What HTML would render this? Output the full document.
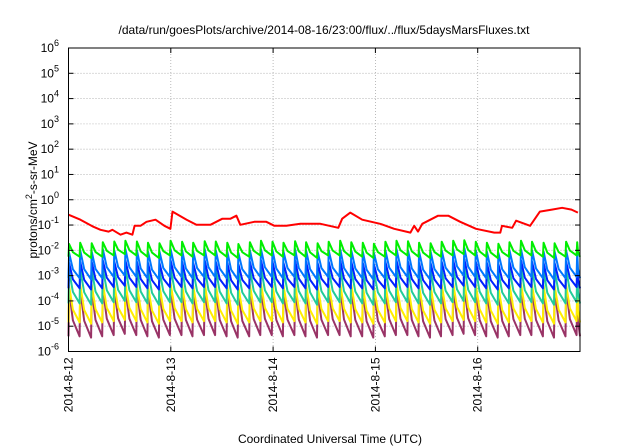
<!DOCTYPE html>
<html><head><meta charset="utf-8"><style>
html,body{margin:0;padding:0;background:#fff;}
svg{display:block;font-family:"Liberation Sans",sans-serif;}
</style></head><body>
<svg id="chart" width="640" height="448" viewBox="0 0 640 448" xmlns="http://www.w3.org/2000/svg">
<rect x="0" y="0" width="640" height="448" fill="#fff"/>
<text x="324" y="34" font-size="12" text-anchor="middle">/data/run/goesPlots/archive/2014-08-16/23:00/flux/../flux/5daysMarsFluxes.txt</text>
<g id="grid"></g>
<g id="series"></g>
<g id="axes"></g>
<text transform="translate(37,200) rotate(-90)" font-size="12" text-anchor="middle">protons/cm<tspan dy="-5" font-size="9">2</tspan><tspan dy="5">-s-sr-MeV</tspan></text>
<text x="330" y="443" font-size="12" text-anchor="middle">Coordinated Universal Time (UTC)</text>
</svg>
<script>
const dayLabels = ["2014-8-12","2014-8-13","2014-8-14","2014-8-15","2014-8-16"];
const yExponents = [-6,-5,-4,-3,-2,-1,0,1,2,3,4,5,6];
const cycleHours = [0,2.6,5.3,7.9,10.6,13.2,15.9,18.5,21.2,23.8,26.5,29.1,31.8,34.4,37.1,39.7,42.4,45.0,47.7,50.3,53.0,55.6,58.3,60.9,63.6,66.2,68.9,71.5,74.2,76.8,79.5,82.1,84.8,87.4,90.1,92.7,95.4,98.0,100.7,103.3,106.0,108.6,111.3,113.9,116.6,119.2];
const greenPeaks = [-1.75,-1.7,-1.72,-1.68,-1.65,-1.62,-1.65,-1.7,-1.72,-1.62,-1.66,-1.7,-1.64,-1.65,-1.7,-1.75,-1.68,-1.62,-1.66,-1.7,-1.64,-1.68,-1.72,-1.66,-1.62,-1.68,-1.7,-1.74,-1.66,-1.62,-1.64,-1.7,-1.72,-1.66,-1.62,-1.6,-1.66,-1.7,-1.74,-1.68,-1.62,-1.66,-1.7,-1.72,-1.66,-1.68];
const greenTroughs = [-2.25,-2.3,-2.25,-2.2,-2.15,-2.2,-2.25,-2.3,-2.2,-2.2,-2.25,-2.2,-2.2,-2.25,-2.3,-2.25,-2.2,-2.2,-2.25,-2.2,-2.25,-2.3,-2.2,-2.2,-2.25,-2.25,-2.3,-2.25,-2.2,-2.2,-2.25,-2.3,-2.25,-2.2,-2.15,-2.2,-2.25,-2.3,-2.25,-2.2,-2.2,-2.25,-2.3,-2.25,-2.2,-2.25];
const ltBluePeaks = [-2.1,-2.0,-2.05,-1.95,-2.0,-1.95,-2.0,-2.05,-2.05,-1.95,-2.0,-2.05,-1.95,-2.0,-2.05,-2.1,-2.0,-1.95,-2.0,-2.05,-1.95,-2.0,-2.05,-2.0,-1.95,-2.0,-2.05,-2.1,-2.0,-1.95,-2.0,-2.05,-2.05,-2.0,-1.95,-1.9,-2.0,-2.05,-2.1,-2.0,-1.95,-2.0,-2.05,-2.05,-2.0,-2.05];
const ltBlueTroughs = [-3.1,-3.15,-3.1,-3.05,-3.0,-3.05,-3.1,-3.15,-3.05,-3.05,-3.1,-3.05,-3.05,-3.1,-3.15,-3.1,-3.05,-3.05,-3.1,-3.05,-3.1,-3.15,-3.05,-3.05,-3.1,-3.1,-3.15,-3.1,-3.05,-3.05,-3.1,-3.15,-3.1,-3.05,-3.0,-3.05,-3.1,-3.15,-3.1,-3.05,-3.05,-3.1,-3.15,-3.1,-3.05,-3.1];
const bluePeaks = [-2.5,-2.45,-2.45,-2.4,-2.45,-2.4,-2.45,-2.5,-2.5,-2.4,-2.45,-2.5,-2.4,-2.45,-2.5,-2.55,-2.45,-2.4,-2.45,-2.5,-2.4,-2.45,-2.5,-2.45,-2.4,-2.45,-2.5,-2.55,-2.45,-2.4,-2.45,-2.5,-2.5,-2.45,-2.4,-2.35,-2.45,-2.5,-2.55,-2.45,-2.4,-2.45,-2.5,-2.5,-2.45,-2.5];
const blueTroughs = [-3.5,-3.55,-3.5,-3.45,-3.4,-3.45,-3.5,-3.55,-3.45,-3.45,-3.5,-3.45,-3.45,-3.5,-3.55,-3.5,-3.45,-3.45,-3.5,-3.45,-3.5,-3.55,-3.45,-3.45,-3.5,-3.5,-3.55,-3.5,-3.45,-3.45,-3.5,-3.55,-3.5,-3.45,-3.4,-3.45,-3.5,-3.55,-3.5,-3.45,-3.45,-3.5,-3.55,-3.5,-3.45,-3.5];
const tealPeaks = [-2.8,-2.75,-2.75,-2.7,-2.75,-2.7,-2.75,-2.8,-2.8,-2.7,-2.75,-2.8,-2.7,-2.75,-2.8,-2.85,-2.75,-2.7,-2.75,-2.8,-2.7,-2.75,-2.8,-2.75,-2.7,-2.75,-2.8,-2.85,-2.75,-2.7,-2.75,-2.8,-2.8,-2.75,-2.7,-2.65,-2.75,-2.8,-2.85,-2.75,-2.7,-2.75,-2.8,-2.8,-2.75,-2.8];
const tealTroughs = [-4.1,-4.15,-4.1,-4.05,-4.0,-4.05,-4.1,-4.15,-4.05,-4.05,-4.1,-4.05,-4.05,-4.1,-4.15,-4.1,-4.05,-4.05,-4.1,-4.05,-4.1,-4.15,-4.05,-4.05,-4.1,-4.1,-4.15,-4.1,-4.05,-4.05,-4.1,-4.15,-4.1,-4.05,-4.0,-4.05,-4.1,-4.15,-4.1,-4.05,-4.05,-4.1,-4.15,-4.1,-4.05,-4.1];
const yellowPeaks = [-3.4,-3.35,-3.35,-3.3,-3.35,-3.3,-3.35,-3.4,-3.4,-3.3,-3.35,-3.4,-3.3,-3.35,-3.4,-3.45,-3.35,-3.3,-3.35,-3.4,-3.3,-3.35,-3.4,-3.35,-3.3,-3.35,-3.4,-3.45,-3.35,-3.3,-3.35,-3.4,-3.4,-3.35,-3.3,-3.25,-3.35,-3.4,-3.45,-3.35,-3.3,-3.35,-3.4,-3.4,-3.35,-3.4];
const yellowTroughs = [-4.85,-4.9,-4.85,-4.8,-4.75,-4.8,-4.85,-4.9,-4.8,-4.8,-4.85,-4.8,-4.8,-4.85,-4.9,-4.85,-4.8,-4.8,-4.85,-4.8,-4.85,-4.9,-4.8,-4.8,-4.85,-4.85,-4.9,-4.85,-4.8,-4.8,-4.85,-4.9,-4.85,-4.8,-4.75,-4.8,-4.85,-4.9,-4.85,-4.8,-4.8,-4.85,-4.9,-4.85,-4.8,-4.85];
const purplePeaks = [-3.6,-3.55,-3.55,-3.5,-3.55,-3.5,-3.55,-3.6,-3.6,-3.5,-3.55,-3.6,-3.5,-3.55,-3.6,-3.65,-3.55,-3.5,-3.55,-3.6,-3.5,-3.55,-3.6,-3.55,-3.5,-3.55,-3.6,-3.65,-3.55,-3.5,-3.55,-3.6,-3.6,-3.55,-3.5,-3.45,-3.55,-3.6,-3.65,-3.55,-3.5,-3.55,-3.6,-3.6,-3.55,-3.6];
const purpleTroughs = [-5.4,-5.45,-5.4,-5.35,-5.3,-5.35,-5.4,-5.45,-5.35,-5.35,-5.4,-5.35,-5.35,-5.4,-5.45,-5.4,-5.35,-5.35,-5.4,-5.35,-5.4,-5.45,-5.35,-5.35,-5.4,-5.4,-5.45,-5.4,-5.35,-5.35,-5.4,-5.45,-5.4,-5.35,-5.3,-5.35,-5.4,-5.45,-5.4,-5.35,-5.35,-5.4,-5.45,-5.4,-5.35,-5.4];
const redHours = [0,2.8,5.6,7.5,9.4,10.3,12.2,13.6,15.0,15.5,16.9,18.3,20.4,22.5,23.9,24.4,27.7,30.0,33.3,36.1,38.0,39.4,40.3,43.6,46.4,48.3,51.1,54.4,59.1,63.3,64.2,66.1,68.9,73.1,76.4,80.2,81.1,82.0,83.0,86.7,89.1,91.9,95.6,99.9,101.3,101.7,104.1,105.0,108.3,110.6,113.4,115.8,118.0,119.5];
const redLog = [-0.59,-0.79,-1.05,-1.19,-1.26,-1.19,-1.38,-1.30,-1.38,-1.03,-1.03,-0.87,-0.79,-1.03,-1.15,-0.47,-0.79,-0.99,-0.99,-0.75,-0.75,-0.63,-0.99,-0.87,-0.87,-1.03,-1.03,-0.95,-0.95,-1.11,-0.75,-0.51,-0.79,-0.95,-1.15,-1.30,-1.03,-1.26,-0.95,-0.63,-0.63,-0.87,-1.15,-1.30,-1.30,-1.03,-1.11,-0.83,-1.03,-0.47,-0.39,-0.32,-0.39,-0.51];

const L=68.5,R=580,T=48,B=351.5, H0=0,H1=120;
const xS=h=>L+(h-H0)/(H1-H0)*(R-L);
const yS=lg=>B-(lg+6)/12*(B-T);
const NS="http://www.w3.org/2000/svg";
function mk(tag,attrs,parent){const e=document.createElementNS(NS,tag);for(const k in attrs)e.setAttribute(k,attrs[k]);parent.appendChild(e);return e;}
const grid=document.getElementById('grid'),axes=document.getElementById('axes'),ser=document.getElementById('series');

yExponents.forEach((p,i)=>{
  const y=yS(p);
  if(i>0&&i<yExponents.length-1){const g=mk('line',{x1:L,x2:R,y1:y,y2:y,stroke:'#aaa','stroke-width':0.8,'stroke-dasharray':'1,2'},grid);
  
  }
  const t=mk('text',{x:59,y:y+4,'font-size':12,'text-anchor':'end'},axes);
  
  
  t.textContent='10';
  const s=mk('tspan',{dy:-6,'font-size':9},t); s.textContent=String(p);
  mk('line',{x1:L,x2:L+5,y1:y,y2:y,stroke:'#000'},axes);
  mk('line',{x1:R,x2:R-5,y1:y,y2:y,stroke:'#000'},axes);
});
dayLabels.forEach((d,i)=>{
  const x=xS(i*24);
  if(i>0){const g=mk('line',{x1:x,x2:x,y1:T,y2:B,stroke:'#aaa','stroke-width':0.8,'stroke-dasharray':'1,2'},grid);
  
  }
  mk('line',{x1:x,x2:x,y1:B,y2:B-5,stroke:'#000'},axes);
  mk('line',{x1:x,x2:x,y1:T,y2:T+5,stroke:'#000'},axes);
  const t=mk('text',{transform:`translate(${x+4},${B+6}) rotate(-90)`,'font-size':12,'text-anchor':'end'},axes);
  
  
  t.textContent=d;
});
const frame=mk('rect',{x:L,y:T,width:R-L,height:B-T,fill:'none',stroke:'#000','stroke-width':1},axes);



function sawPath(peaks,troughs){
  let pts=[];
  for(let i=0;i<cycleHours.length;i++){
    const t0=cycleHours[i], t1=i+1<cycleHours.length?cycleHours[i+1]:120;
    const dt=t1-t0;
    pts.push([t0,troughs[i>0?i-1:0]]);
    pts.push([t0+0.15,peaks[i]]);
    pts.push([t0+dt*0.4,troughs[i]+(peaks[i]-troughs[i])*0.35]);
    pts.push([t1,troughs[i]]);
  }
  return pts.filter(p=>p[0]<=120).map((p,j)=>(j?'L':'M')+xS(p[0]).toFixed(1)+','+yS(p[1]).toFixed(1)).join('');
}
const seriesDefs=[
  ['purple-series','#993366',purplePeaks,purpleTroughs],
  ['yellow-series','#ffee00',yellowPeaks,yellowTroughs],
  ['teal-series','#22cc99',tealPeaks,tealTroughs],
  ['blue-series','#0022ff',bluePeaks,blueTroughs],
  ['light-blue-series','#0077ff',ltBluePeaks,ltBlueTroughs],
  ['green-series','#00ee00',greenPeaks,greenTroughs]
];
seriesDefs.forEach(s=>{
  const p=mk('path',{d:sawPath(s[2],s[3]),fill:'none',stroke:s[1],'stroke-width':2,'stroke-linejoin':'round'},ser);
  
  
});
const rd=redHours.map((h,i)=>(i?'L':'M')+xS(h).toFixed(1)+','+yS(redLog[i]).toFixed(1)).join('');
const rp=mk('path',{d:rd,fill:'none',stroke:'#ff0000','stroke-width':2,'stroke-linejoin':'round'},ser);


</script>
</body></html>
